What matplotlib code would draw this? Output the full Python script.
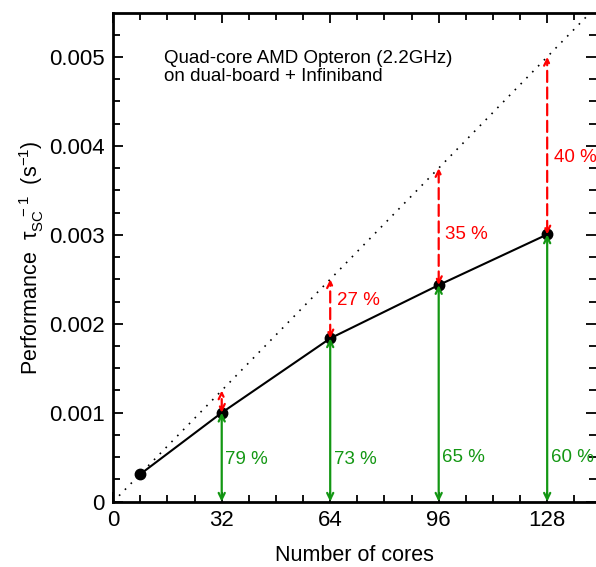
import numpy as np
import matplotlib
matplotlib.use('Agg')
import matplotlib.pyplot as plt
from matplotlib.ticker import MultipleLocator, FixedLocator, FixedFormatter

plt.rcParams['font.family'] = ['Liberation Sans', 'DejaVu Sans']
plt.rcParams['mathtext.fontset'] = 'custom'
plt.rcParams['mathtext.rm'] = 'Liberation Sans'
plt.rcParams['mathtext.it'] = 'Liberation Sans'

# measured performance (1/tau_SC) vs number of cores
cores = [8, 32, 64, 96, 128]
perf = [0.00031, 0.00100, 0.001836, 0.002435, 0.003004]

# ideal linear scaling and labels at each arrow
ideal_slope = 0.005 / 128
arrow_cores = [32, 64, 96, 128]
eff_labels = ['79 %', '73 %', '65 %', '60 %']
loss_labels = ['', '27 %', '35 %', '40 %']
# label heights (data units)
eff_y = [0.00047, 0.00047, 0.0005, 0.0005]
loss_y = [0, 0.00226, 0.0030, 0.00387]

green = '#139713'
red = '#ff0000'

fig = plt.figure(figsize=(5.96, 5.67), dpi=100)
ax = fig.add_axes([0.190, 0.1152, 0.81, 0.8613])

xi = np.array([0, 150])
ax.plot(xi, ideal_slope * xi, color='black', linestyle=(0, (1, 4)), lw=1.2)
ax.plot(cores, perf, color='black', lw=1.5, marker='o', ms=7.5, zorder=3)

for i, n in enumerate(arrow_cores):
    p = perf[i + 1]
    ideal = ideal_slope * n
    ax.annotate('', xy=(n, 0), xytext=(n, p),
                arrowprops=dict(arrowstyle='<->,head_length=0.45,head_width=0.22',
                                color=green, lw=1.6, shrinkA=0, shrinkB=0), zorder=4)
    ax.annotate('', xy=(n, ideal), xytext=(n, p),
                arrowprops=dict(arrowstyle='<->,head_length=0.45,head_width=0.22',
                                color=red, lw=1.6, linestyle=(0, (5, 2.5)),
                                shrinkA=0, shrinkB=0), zorder=4)
    ax.text(n + 1.0, eff_y[i], eff_labels[i], color=green, fontsize=13.5,
            ha='left', va='center')
    if loss_labels[i]:
        ax.text(n + 2.0, loss_y[i], loss_labels[i], color=red, fontsize=13.5,
                ha='left', va='center')

ax.text(15, 0.00488, 'Quad-core AMD Opteron (2.2GHz)\non dual-board + Infiniband',
        fontsize=13.5, ha='left', va='center', linespacing=1.1)

ax.set_xlim(0, 142.4)
ax.set_ylim(0, 0.00549)
ax.xaxis.set_major_locator(FixedLocator([0, 32, 64, 96, 128]))
ax.xaxis.set_minor_locator(MultipleLocator(8))
yt = [0, 0.001, 0.002, 0.003, 0.004, 0.005]
ax.yaxis.set_major_locator(FixedLocator(yt))
ax.yaxis.set_major_formatter(FixedFormatter(['0', '0.001', '0.002', '0.003', '0.004', '0.005']))
ax.yaxis.set_minor_locator(MultipleLocator(0.00025))

ax.tick_params(which='both', direction='in', top=True, right=True, width=1.3, labelsize=16)
ax.tick_params(which='major', length=7, pad=6)
ax.tick_params(which='minor', length=5)
for s in ['left', 'bottom', 'top']:
    ax.spines[s].set_linewidth(2)
ax.spines['right'].set_visible(False)

ax.set_xlabel('Number of cores', fontsize=15.5, labelpad=10)
ax.set_ylabel(r'Performance  $\mathrm{\tau}_{\mathrm{SC}}^{\ \ \ -1}$  (s$^{-1}$)',
              fontsize=15.5, labelpad=2)

fig.savefig('out.png', dpi=100)
